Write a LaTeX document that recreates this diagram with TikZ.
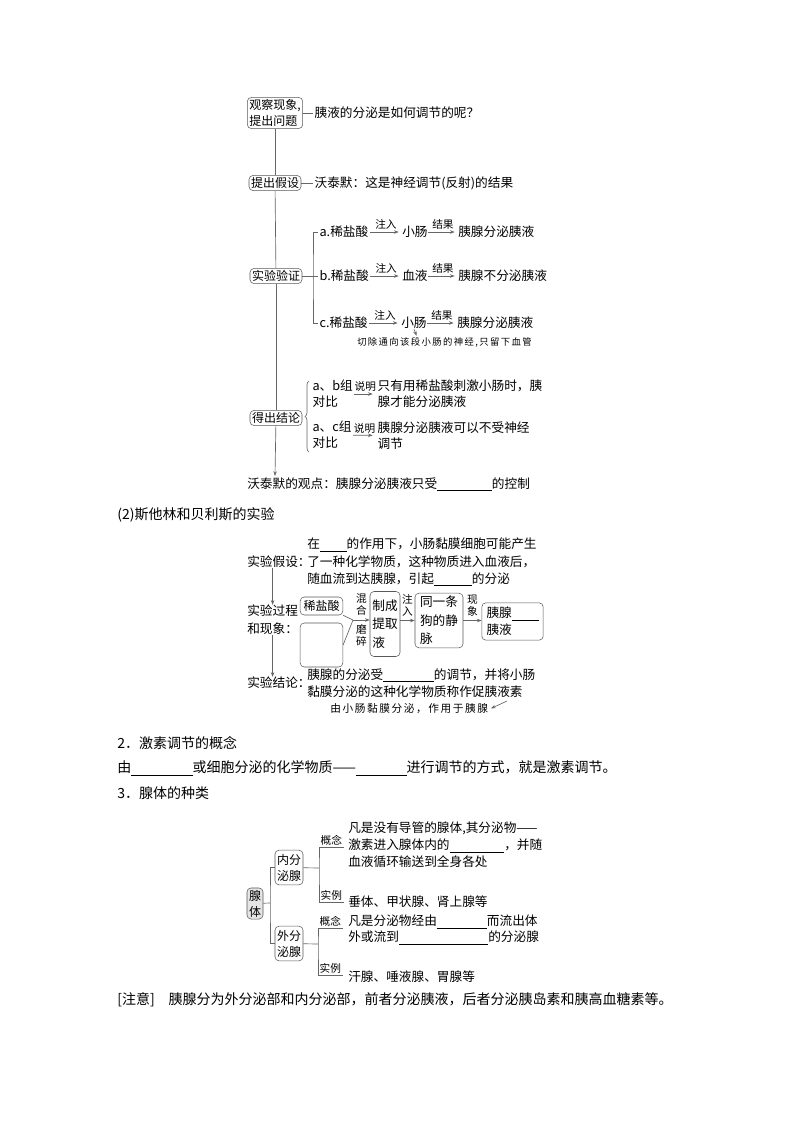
\documentclass[tikz,border=0pt]{standalone}
\usepackage{fontspec}
\setmainfont{Noto Sans CJK SC}
\newfontfamily\notefont[LetterSpace=15]{Noto Sans CJK SC}
\usetikzlibrary{arrows.meta,decorations.pathreplacing}
\newcommand{\blank}[1]{\rule[-2pt]{#1}{0.5pt}}
\begin{document}
\begin{tikzpicture}
  	[x=0.75pt,y=-0.75pt,
  	 every node/.style={inner sep=0pt},
  	 >={Stealth[length=3.5pt,width=2.6pt]},
  	 line/.style={draw=black!60,line width=0.5pt},
  	 arr/.style={line,->,shorten >=2.5pt},
  	 box/.style={draw=black!65,rounded corners=3pt,fill=white,align=left,inner sep=1.5pt,font=\fontsize{9}{12}\selectfont},
  	 txt/.style={anchor=west,align=left,font=\fontsize{9.5}{12}\selectfont},
  	 lbl/.style={align=center,font=\fontsize{8}{9}\selectfont},
  	 note/.style={anchor=west,font=\notefont\fontsize{7}{8}\selectfont},
  	 body/.style={anchor=west,font=\fontsize{10.5}{13}\selectfont}]
  	\useasboundingbox[fill=white] (0,0) rectangle (794,1123);
  	\node (n1)[box] at (275,113) {观察现象,\\提出问题};
  	\node (t1)[txt,inner sep=1pt] at (313,113) {胰液的分泌是如何调节的呢？};
  	\node (n2)[box] at (275,183) {提出假设};
  	\node (t2)[txt,inner sep=1pt] at (313,183) {沃泰默：这是神经调节(反射)的结果};
  	\node (n3)[box] at (276,276) {实验验证};
  	\coordinate (j3) at (313,276);
  	\node (a1)[txt,inner sep=1pt] at (318,232) {a.稀盐酸};
  	\node (a2)[txt] at (402,232) {小肠};
  	\node (a3)[txt] at (458,232) {胰腺分泌胰液};
  	\node (b1)[txt,inner sep=1pt] at (318,276) {b.稀盐酸};
  	\node (b2)[txt] at (402,276) {血液};
  	\node (b3)[txt] at (458,276) {胰腺不分泌胰液};
  	\node (c1)[txt,inner sep=1pt] at (318,323) {c.稀盐酸};
  	\node (c2)[txt] at (401,323) {小肠};
  	\node (c3)[txt] at (457,323) {胰腺分泌胰液};
  	\node (q1)[note] at (357,342) {切除通向该段小肠的神经,只留下血管};
  	\coordinate (k1) at (417,337);
  	\node (n4)[box] at (276,418) {得出结论};
  	\coordinate (br1) at (309,452);
  	\coordinate (br2) at (309,381);
  	\node (g1)[txt,inner sep=1pt] at (311,394) {a、b组\\对比};
  	\node (r1)[txt,inner sep=1pt] at (376,394) {只有用稀盐酸刺激小肠时，胰\\腺才能分泌胰液};
  	\node (g2)[txt,inner sep=1pt] at (311,435) {a、c组\\对比};
  	\node (r2)[txt,inner sep=1pt] at (376,436) {胰腺分泌胰液可以不受神经\\调节};
  	\coordinate (e1) at (275,476);
  	\node (v1)[txt] at (247,484) {沃泰默的观点：胰腺分泌胰液只受\blank{41pt}的控制};
  	\draw[line] (n1) -- (n2);
  	\draw[line] (n2) -- (n3);
  	\draw[line] (n3) -- (n4);
  	\draw[line,->] (n4) -- (e1);
  	\draw[line] (n1) -- (t1);
  	\draw[line] (n2) -- (t2);
  	\draw[line] (n3) -- (j3);
  	\draw[line] (a1.west) -| (j3) |- (c1.west);
  	\draw[line] (j3) -- (b1.west);
  	\foreach \r in {a,b,c} {
  		\draw[arr] (\r1) -- node[lbl,above=1.5pt]{注入} (\r2);
  		\draw[arr] (\r2) -- node[lbl,above=1.5pt]{结果} (\r3);
  	}
  	\draw[line,->,shorten >=1pt] (c2.south) -- (k1);
  	\draw[line,decorate,decoration={brace,amplitude=3pt}] (br1) -- (br2);
  	\draw[arr] (g1) -- node[lbl,above=1.5pt]{说明} (r1);
  	\draw[arr] (g2) -- node[lbl,above=1.5pt]{说明} (r2);
  	\node (s0)[body] at (117,515) {(2)斯他林和贝利斯的实验};
  	\node (h0)[txt] at (247,562) {实验假设：};
  	\node (h1)[txt,font=\fontsize{9.5}{13.1}\selectfont] at (307,562) {在\blank{20pt}的作用下，小肠黏膜细胞可能产生\\了一种化学物质，这种物质进入血液后，\\随血流到达胰腺，引起\blank{28.5pt}的分泌};
  	\node (p0)[txt,font=\fontsize{9.5}{13.5}\selectfont] at (247,620) {实验过程\\和现象：};
  	\node (s1)[box,align=center,minimum width=32pt,minimum height=13.5pt] at (321.5,606) {稀盐酸};
  	\node (s2)[box,minimum width=32pt,minimum height=33pt] at (321.5,645) {};
  	\coordinate (m) at (353,620);
  	\node (s3)[box,font=\fontsize{9.5}{13.9}\selectfont,minimum width=22.5pt,minimum height=48.75pt] at (385,624) {制成\\提取\\液};
  	\node (s4)[box,font=\fontsize{9.5}{13.9}\selectfont,minimum width=36pt,minimum height=41pt] at (439,620.5) {同一条\\狗的静\\脉};
  	\node (s5)[box,font=\fontsize{9.5}{12.8}\selectfont,minimum width=46pt,minimum height=28pt] at (512.5,621.5) {胰腺\blank{20pt}\\胰液};
  	\node (c0)[txt] at (247,683) {实验结论：};
  	\node (c4)[txt,font=\fontsize{9.5}{12.75}\selectfont] at (307,683) {胰腺的分泌受\blank{38pt}的调节，并将小肠\\黏膜分泌的这种化学物质称作促胰液素};
  	\node (q2)[note,font=\notefont\fontsize{8}{9}\selectfont] at (330,709) {由小肠黏膜分泌，作用于胰腺};
  	\coordinate (k2) at (507,701);
  	\draw[line,->] (h0.south -| p0.north) -- (p0.north);
  	\draw[line,->] (p0.south) -- (p0.south |- c0.north);
  	\draw[line] (s1.south east) -- (m);
  	\draw[line] (s2.east) -- (m);
  	\draw[line,->] (m) -- node[lbl,above=3pt]{混\\合} node[lbl,below=3pt]{磨\\碎} (m -| s3.west);
  	\draw[line,->] (s3.east |- s4.west) -- node[lbl,above=3pt]{注\\入} (s4.west);
  	\draw[line,->] (s4.east) -- node[lbl,above=3pt]{现\\象} (s4.east -| s5.west);
  	\draw[line,<-,shorten <=1pt] ([xshift=1pt]q2.east) -- (k2);
  	\node (s6)[body] at (117,743) {2．激素调节的概念};
  	\node (s7)[body] at (117,768) {由\blank{46pt}或细胞分泌的化学物质——\blank{38pt}进行调节的方式，就是激素调节。};
  	\node (s8)[body] at (117,793) {3．腺体的种类};
  	\node (x0)[box,align=center,fill=black!10] at (255,903.5) {腺\\体};
  	\node (x1)[box,minimum height=26pt] at (289,867.5) {内分\\泌腺};
  	\node (x2)[box,minimum height=26pt] at (289,943.5) {外分\\泌腺};
  	\coordinate (j0) at (270,903);
  	\coordinate (j1) at (319,868);
  	\coordinate (j2) at (318,944);
  	\node (l1)[lbl,anchor=south west,inner sep=1pt] at (319,847) {概念};
  	\node (l2)[lbl,anchor=south west,inner sep=1pt] at (319,902) {实例};
  	\node (l3)[lbl,anchor=south west,inner sep=1pt] at (318,928) {概念};
  	\node (l4)[lbl,anchor=south west,inner sep=1pt] at (318,975) {实例};
  	\node (d1)[txt,font=\fontsize{9.5}{12.75}\selectfont] at (348,845) {凡是没有导管的腺体,其分泌物——\\激素进入腺体内的\blank{41pt}，并随\\血液循环输送到全身各处};
  	\node (d2)[txt] at (348,902) {垂体、甲状腺、肾上腺等};
  	\node (d3)[txt] at (348,930) {凡是分泌物经由\blank{37.5pt}而流出体\\外或流到\blank{67pt}的分泌腺};
  	\node (d4)[txt] at (348,977) {汗腺、唾液腺、胃腺等};
  	\draw[line] (x0) -- (j0);
  	\draw[line] (x1.west) -| (j0) |- (x2.west);
  	\draw[line] (x1) -- (j1);
  	\draw[line] (l1.south east) -| (j1) |- (l2.south east);
  	\draw[line] (x2) -- (j2);
  	\draw[line] (l3.south east) -| (j2) |- (l4.south east);
  	\node (s9)[body] at (117,1000) {[注意]\quad 胰腺分为外分泌部和内分泌部，前者分泌胰液，后者分泌胰岛素和胰高血糖素等。};
\end{tikzpicture}
\end{document}
